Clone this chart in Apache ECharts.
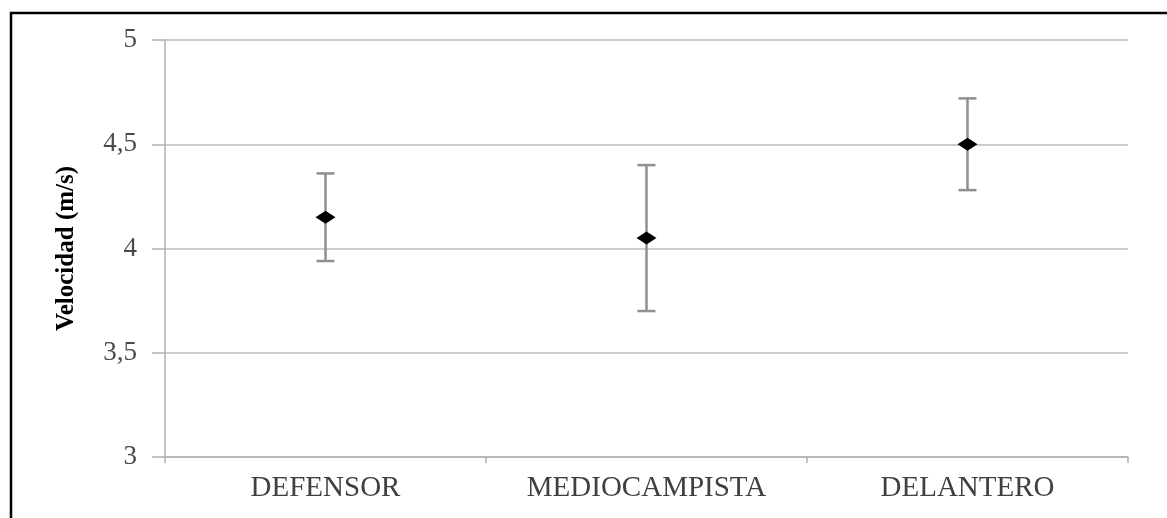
<!DOCTYPE html>
<html>
<head>
<meta charset="utf-8">
<script src="https://cdn.jsdelivr.net/npm/echarts@6/dist/echarts.min.js"></script>
<style>
  html, body { margin: 0; padding: 0; background: #fff; }
  #chart { width: 1167px; height: 518px; }
</style>
</head>
<body>
<div id="chart"></div>
<script>
var categories = ['DEFENSOR', 'MEDIOCAMPISTA', 'DELANTERO'];
var meanValues = [4.15, 4.05, 4.50];
var errValues = [0.21, 0.35, 0.22];
var yTicks = [3, 3.5, 4, 4.5, 5];

var errData = [];
for (var i = 0; i < categories.length; i++) {
    errData.push([i, meanValues[i] - errValues[i], meanValues[i] + errValues[i]]);
}

var myChart = echarts.init(document.getElementById('chart'));
var option = {
    backgroundColor: '#ffffff',
    animation: false,
    grid: { left: 165, right: 39, top: 40, bottom: 61 },
    graphic: [{
        type: 'polyline',
        shape: { points: [[11, 518], [11, 13], [1167, 13]] },
        style: { stroke: '#000', lineWidth: 2.5, fill: null }
    }],
    xAxis: {
        type: 'category',
        data: categories,
        boundaryGap: true,
        axisLine: { lineStyle: { color: '#b0b0b0', width: 1.5 } },
        axisTick: { show: true, length: 6, lineStyle: { color: '#b0b0b0', width: 1.5 } },
        axisLabel: {
            margin: 17,
            fontFamily: 'Liberation Serif',
            fontSize: 29,
            color: '#404040'
        }
    },
    yAxis: {
        type: 'value',
        min: 3,
        max: 5,
        interval: 0.5,
        name: 'Velocidad (m/s)',
        nameLocation: 'middle',
        nameGap: 86,
        nameTextStyle: {
            fontFamily: 'Liberation Serif',
            fontWeight: 'bold',
            fontSize: 25,
            color: '#000'
        },
        axisLine: { show: true, lineStyle: { color: '#b0b0b0', width: 1.5 } },
        axisTick: { show: true, inside: false, length: 13, lineStyle: { color: '#b0b0b0', width: 1.5 } },
        splitLine: { show: true, lineStyle: { color: '#bdbdbd', width: 1.5 } },
        axisLabel: {
            margin: 28,
            fontFamily: 'Liberation Serif',
            fontSize: 27,
            color: '#4a4a4a',
            formatter: function (v) {
                return yTicks.indexOf(v) >= 0 ? String(v).replace('.', ',') : '';
            }
        }
    },
    series: [{
        type: 'custom',
        data: errData,
        z: 3,
        renderItem: function (params, api) {
            var x = api.value(0);
            var lo = api.coord([x, api.value(1)]);
            var hi = api.coord([x, api.value(2)]);
            var hw = 9;
            var st = { stroke: '#8f8f8f', lineWidth: 2.5 };
            return {
                type: 'group',
                children: [
                    { type: 'line', shape: { x1: lo[0], y1: lo[1], x2: hi[0], y2: hi[1] }, style: st },
                    { type: 'line', shape: { x1: hi[0] - hw, y1: hi[1], x2: hi[0] + hw, y2: hi[1] }, style: st },
                    { type: 'line', shape: { x1: lo[0] - hw, y1: lo[1], x2: lo[0] + hw, y2: lo[1] }, style: st }
                ]
            };
        }
    }, {
        type: 'scatter',
        data: meanValues,
        z: 5,
        symbol: 'diamond',
        symbolSize: [20, 13],
        itemStyle: { color: '#000', opacity: 1 }
    }]
};
myChart.setOption(option);
</script>
</body>
</html>
